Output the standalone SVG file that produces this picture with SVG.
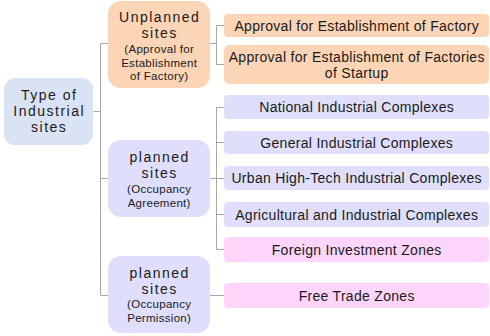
<svg xmlns="http://www.w3.org/2000/svg" width="490" height="336" viewBox="0 0 490 336">
  <style>
    text { font-family: "Liberation Sans", Arial, sans-serif; fill: #1a1a1a; text-anchor: middle; dominant-baseline: central; }
    .big { font-size: 14px; letter-spacing: 1.5px; }
    .small { font-size: 11.5px; letter-spacing: 0.3px; }
    .leaf { font-size: 14px; letter-spacing: 0.3px; }
    .root { fill: #dae3f3; }
    .peach { fill: #fcd5b6; }
    .lav { fill: #dfdffb; }
    .pink { fill: #fdd5fb; }
    .conn { fill: none; stroke: #a6a6a6; stroke-width: 1; }
  </style>

  <!-- connectors -->
  <g id="connectors">
    <path class="conn" d="M93.5,111.5 H100.5 M100.5,43.5 V295.5 M100.5,43.5 H108 M100.5,178.5 H108 M100.5,295.5 H108"/>
    <path class="conn" d="M210,43.5 H216.5 M216.5,25.5 V64.5 M216.5,25.5 H224 M216.5,64.5 H224"/>
    <path class="conn" d="M210,178.5 H216.5 M216.5,107.5 V249.5 M216.5,107.5 H224 M216.5,142.5 H224 M216.5,178.5 H224 M216.5,214.5 H224 M216.5,249.5 H224"/>
    <path class="conn" d="M210,295.5 H224"/>
  </g>

  <!-- root -->
  <g id="root">
    <rect class="root" x="4" y="78" width="89" height="67" rx="11"/>
    <text class="big" x="49.2" y="95">Type of</text>
    <text class="big" x="49.2" y="111">Industrial</text>
    <text class="big" x="49.2" y="127">sites</text>
  </g>

  <!-- second level -->
  <g id="unplanned">
    <rect class="peach" x="108" y="1" width="102" height="87" rx="13"/>
    <text class="big" x="159.7" y="16.5">Unplanned</text>
    <text class="big" x="159.7" y="32.5">sites</text>
    <text class="small" x="159.2" y="49">(Approval for</text>
    <text class="small" x="159.2" y="62.5">Establishment</text>
    <text class="small" x="159.2" y="76">of Factory)</text>
  </g>

  <g id="planned-agreement">
    <rect class="lav" x="108" y="140" width="102" height="77" rx="13"/>
    <text class="big" x="159.7" y="156.5">planned</text>
    <text class="big" x="159.7" y="172.5">sites</text>
    <text class="small" x="159.2" y="189">(Occupancy</text>
    <text class="small" x="159.2" y="202.5">Agreement)</text>
  </g>

  <g id="planned-permission">
    <rect class="lav" x="108" y="256" width="102" height="77" rx="13"/>
    <text class="big" x="159.7" y="272.5">planned</text>
    <text class="big" x="159.7" y="288.5">sites</text>
    <text class="small" x="159.2" y="304">(Occupancy</text>
    <text class="small" x="159.2" y="317.5">Permission)</text>
  </g>

  <!-- leaves -->
  <g id="approval-factory">
    <rect class="peach" x="224" y="14" width="265" height="23" rx="4"/>
    <text class="leaf" x="356.7" y="25.5">Approval for Establishment of Factory</text>
  </g>
  <g id="approval-startup">
    <rect class="peach" x="224" y="45" width="265" height="39" rx="5"/>
    <text class="leaf" x="356.7" y="57">Approval for Establishment of Factories</text>
    <text class="leaf" x="356.7" y="73">of Startup</text>
  </g>
  <g id="national">
    <rect class="lav" x="224" y="95" width="265" height="24" rx="4"/>
    <text class="leaf" x="356.7" y="107">National Industrial Complexes</text>
  </g>
  <g id="general">
    <rect class="lav" x="224" y="131" width="265" height="23" rx="4"/>
    <text class="leaf" x="356.7" y="142.5">General Industrial Complexes</text>
  </g>
  <g id="urban">
    <rect class="lav" x="224" y="166" width="265" height="24" rx="4"/>
    <text class="leaf" x="356.7" y="178">Urban High-Tech Industrial Complexes</text>
  </g>
  <g id="agricultural">
    <rect class="lav" x="224" y="202" width="265" height="25" rx="4"/>
    <text class="leaf" x="356.7" y="214.5">Agricultural and Industrial Complexes</text>
  </g>
  <g id="foreign">
    <rect class="pink" x="224" y="237" width="265" height="25" rx="4"/>
    <text class="leaf" x="356.7" y="249.5">Foreign Investment Zones</text>
  </g>
  <g id="free-trade">
    <rect class="pink" x="224" y="283" width="265" height="25" rx="4"/>
    <text class="leaf" x="356.7" y="295.5">Free Trade Zones</text>
  </g>
</svg>
